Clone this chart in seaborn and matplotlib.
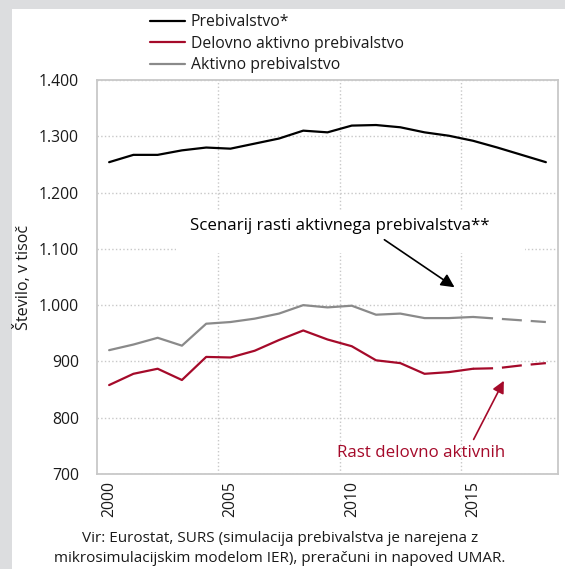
import matplotlib
matplotlib.use("Agg")
import matplotlib.pyplot as plt
import matplotlib.ticker as mticker
from matplotlib.patches import Rectangle
import pandas as pd
import seaborn as sns

# Podatki (v tisoč)
leta = list(range(2000, 2019))
prebivalstvo = [1254, 1267, 1267, 1275, 1280, 1278, 1287, 1296, 1310, 1307,
                1319, 1320, 1316, 1307, 1301, 1292, 1280, 1267, 1254]
delovno_aktivno = [858, 878, 887, 867, 908, 907, 919, 938, 955, 939,
                   927, 902, 897, 878, 881, 887, 888, 893, 897]
aktivno = [920, 930, 942, 928, 967, 970, 976, 985, 1000, 996,
           999, 983, 985, 977, 977, 979, 976, 973, 970]
zadnje_dejansko = 2015  # od tu naprej scenarij (črtkano)

y_ticks = [700, 800, 900, 1000, 1100, 1200, 1300, 1400]
x_ticks = [2000, 2005, 2010, 2015]

df = pd.DataFrame({"leto": leta, "preb": prebivalstvo,
                   "dela": delovno_aktivno, "akt": aktivno})
dej = df[df["leto"] <= zadnje_dejansko]
nap = df[df["leto"] >= zadnje_dejansko]

sns.set_theme(style="white")
plt.rcParams["font.family"] = ["Open Sans", "DejaVu Sans"]
plt.rcParams["text.color"] = "#1a1a1a"
plt.rcParams["xtick.color"] = "#1a1a1a"
plt.rcParams["ytick.color"] = "#1a1a1a"
plt.rcParams["axes.labelcolor"] = "#1a1a1a"

crna, rdeca, siva = "#000000", "#a50a2a", "#8a8a8a"
fs = 11.3

fig = plt.figure(figsize=(5.65, 5.69), dpi=100)
fig.patch.set_facecolor("#dcdddf")
fig.patches.append(Rectangle((12 / 565, 0), 1, 1 - 9 / 569, transform=fig.transFigure,
                             facecolor="white", edgecolor="none", zorder=-5))
ax = fig.add_axes([97 / 565, 1 - 474 / 569, 461 / 565, 394 / 569])
ax.set_zorder(2)

sns.lineplot(data=df, x="leto", y="preb", color=crna, lw=1.6, ax=ax, label="Prebivalstvo*")
sns.lineplot(data=dej, x="leto", y="dela", color=rdeca, lw=1.6, ax=ax, label="Delovno aktivno prebivalstvo")
sns.lineplot(data=dej, x="leto", y="akt", color=siva, lw=1.6, ax=ax, label="Aktivno prebivalstvo")
l1 = sns.lineplot(data=nap, x="leto", y="dela", color=rdeca, lw=1.6, ax=ax, legend=False).lines[-1]
l1.set_dashes((9, 4))
l2 = sns.lineplot(data=nap, x="leto", y="akt", color=siva, lw=1.6, ax=ax, legend=False).lines[-1]
l2.set_dashes((9, 4))

ax.set_xlim(1999.5, 2018.5)
ax.set_ylim(700, 1400)
ax.set_xticks(x_ticks)
ax.set_xticks([2004.5, 2009.5, 2014.5], minor=True)
ax.set_yticks(y_ticks)
ax.yaxis.set_major_formatter(mticker.FuncFormatter(lambda v, p: f"{int(v):,}".replace(",", ".")))
ax.tick_params(axis="x", which="major", labelrotation=90, labelsize=fs, pad=5, length=0)
ax.tick_params(axis="x", which="minor", length=0)
ax.tick_params(axis="y", labelsize=fs, pad=13, length=0)
ax.grid(False)
ax.grid(axis="y", which="major", color="#c8c8c8", linestyle=":", lw=1)
ax.grid(axis="x", which="minor", color="#c8c8c8", linestyle=":", lw=1)
for s in ax.spines.values():
    s.set_color("#c8c8c8")
    s.set_linewidth(1.3)
ax.set_xlabel("")
ax.set_ylabel("Število, v tisoč", fontsize=11.6, labelpad=2)
ax.yaxis.set_label_coords(-0.14, 0.5)

# Bela podlaga za opombo (prekrije mrežo)
ax.add_patch(Rectangle((2002.76, 1093), 14.38, 75, facecolor="white", edgecolor="none", zorder=1))
ax.text(2009.5, 1140, "Scenarij rasti aktivnega prebivalstva**", fontsize=12.2,
        ha="center", va="center", color=crna, zorder=4)
ax.annotate("", xy=(2014.33, 1029), xytext=(2011.25, 1119),
            arrowprops=dict(arrowstyle="-|>", color=crna, lw=1.2, mutation_scale=20), zorder=5)
ax.text(2012.86, 737, "Rast delovno aktivnih", fontsize=12.2, ha="center", va="center", color=rdeca)
ax.annotate("", xy=(2016.32, 870), xytext=(2014.97, 757),
            arrowprops=dict(arrowstyle="-|>", color=rdeca, lw=1.2, mutation_scale=18), zorder=5)

ax.legend(loc="upper left", bbox_to_anchor=(150 / 565, 1 - 14 / 569), bbox_transform=fig.transFigure,
          frameon=False, fontsize=fs, handlelength=2.2, handletextpad=0.4, labelspacing=0.36,
          borderpad=0, borderaxespad=0)

fig.text(280 / 565, 1 - 539 / 569, "Vir: Eurostat, SURS (simulacija prebivalstva je narejena z",
         ha="center", va="center", fontsize=11)
fig.text(280 / 565, 1 - 559 / 569, "mikrosimulacijskim modelom IER), preračuni in napoved UMAR.",
         ha="center", va="center", fontsize=11)

fig.savefig("out.png", dpi=100)
